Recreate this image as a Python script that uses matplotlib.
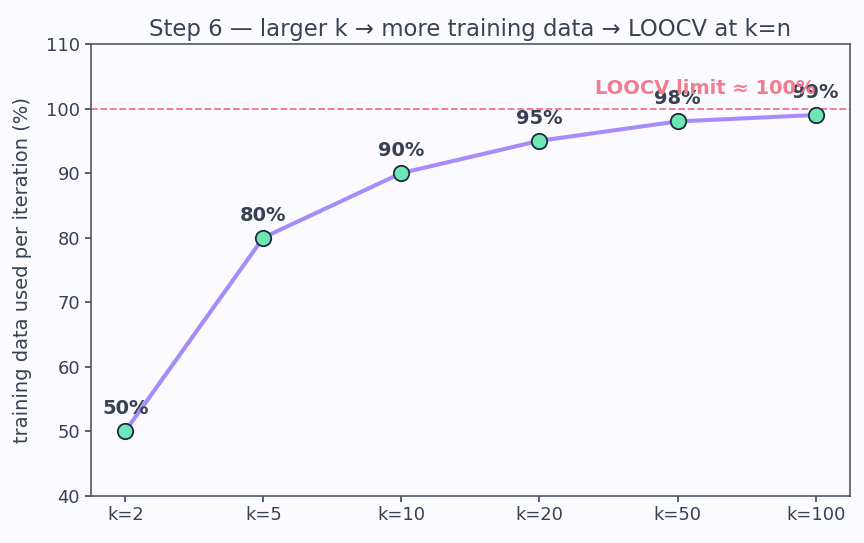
import numpy as np
import matplotlib.pyplot as plt

# datos
k_labels = ["k=2", "k=5", "k=10", "k=20", "k=50", "k=100"]
train_pct = [50, 80, 90, 95, 98, 99]
loocv_limit = 100

text_col = "#374151"
bg = "#fafaff"
sc = 1.17  # escala de la figura original

fig, ax = plt.subplots(figsize=(8.64, 5.43), dpi=100)
fig.patch.set_facecolor(bg)
ax.set_facecolor(bg)

x = np.arange(len(k_labels))
ax.plot(x, train_pct, color="#a78bfa", linewidth=2.5 * sc, zorder=2)
ax.scatter(x, train_pct, s=90 * sc**2, color="#6ee7b7", edgecolor="#1f2937",
           linewidth=1.1 * sc, zorder=3)

for xi, yi in zip(x, train_pct):
    ax.annotate(f"{yi}%", (xi, yi), xytext=(0, 8 * sc), textcoords="offset points",
                ha="center", va="bottom", fontsize=12 * sc, fontweight="bold",
                color=text_col)

ax.axhline(loocv_limit, color="#f07085", linestyle="--", linewidth=1.1 * sc, zorder=1)
ax.text(x[-1], loocv_limit + 1.6, "LOOCV limit ≈ 100%", ha="right", va="bottom",
        fontsize=12 * sc, fontweight="bold", color="#f47a8e")

ax.set_xticks(x)
ax.set_xticklabels(k_labels)
ax.set_xlim(-0.25, len(x) - 0.75)
ax.set_ylim(40, 110)
ax.set_ylabel("training data used per iteration (%)", fontsize=12 * sc,
              color=text_col, labelpad=10)
ax.set_title("Step 6 — larger k → more training data → LOOCV at k=n",
             fontsize=14 * sc, color=text_col)

for s in ax.spines.values():
    s.set_color("#4b5563")
    s.set_linewidth(1.0 * sc)
ax.tick_params(colors=text_col, labelsize=11 * sc, length=3.5 * sc, width=sc)

plt.subplots_adjust(left=0.105, right=0.984, top=0.919, bottom=0.087)
plt.savefig("out.png", dpi=100, facecolor=bg)
